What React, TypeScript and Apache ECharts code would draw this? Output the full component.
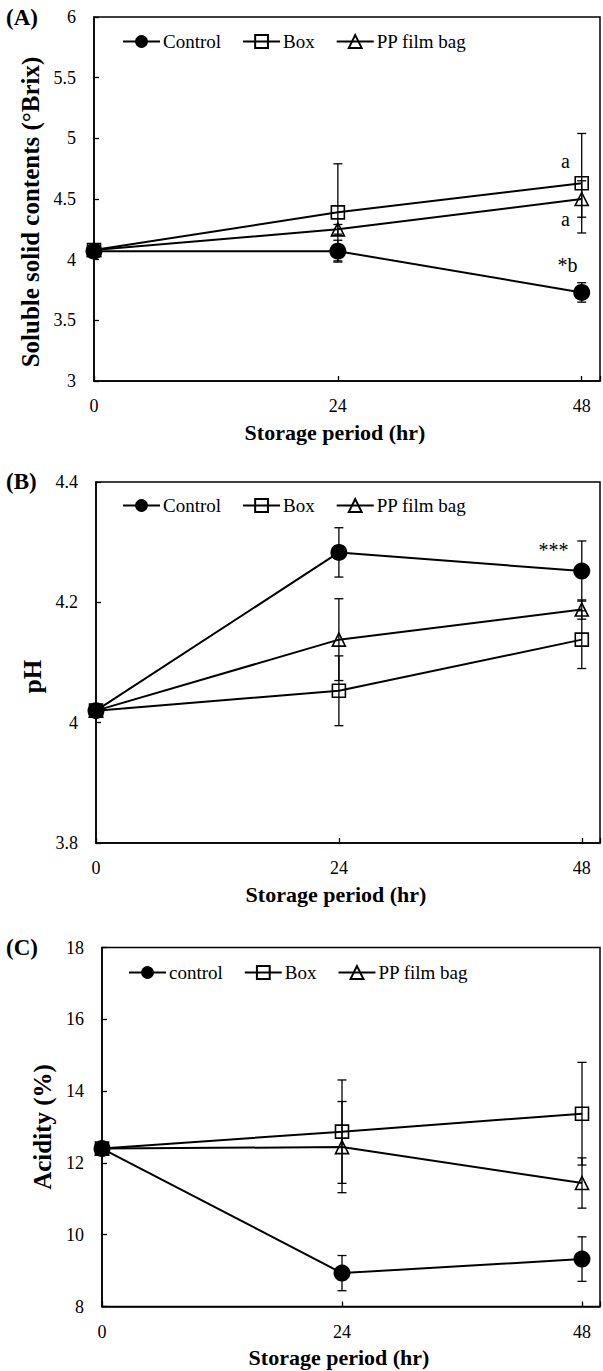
import React, { useEffect, useRef } from "react";
import * as echarts from "echarts";

// ---------- data ----------
const hours = [0, 24, 48];
const xTickLabels = [0, 24, 48];

const namesAB = ["Control", "Box", "PP film bag"];
const namesC = ["control", "Box", "PP film bag"];

// (A) Soluble solid contents (°Brix)
const controlA = [4.07, 4.07, 3.73];
const controlAsd = [0.02, 0.09, 0.08];
const boxA = [4.08, 4.39, 4.63];
const boxAsd = [0.02, 0.4, 0.41];
const ppA = [4.08, 4.25, 4.5];
const ppAsd = [0.02, 0.04, 0.15];
const annA: [number, number, string][] = [
  [46.4, 4.81, "a"],
  [46.4, 4.335, "a"],
  [46.6, 3.96, "*b"],
];

// (B) pH
const controlB = [4.02, 4.283, 4.252];
const controlBsd = [0.005, 0.041, 0.05];
const boxB = [4.02, 4.053, 4.138];
const boxBsd = [0.005, 0.058, 0.048];
const ppB = [4.02, 4.138, 4.188];
const ppBsd = [0.005, 0.068, 0.016];
const annB: [number, number, string][] = [[45.2, 4.287, "***"]];

// (C) Acidity (%)
const controlC = [12.4, 8.93, 9.32];
const controlCsd = [0.1, 0.49, 0.62];
const boxC = [12.4, 12.87, 13.37];
const boxCsd = [0.1, 1.44, 1.43];
const ppC = [12.4, 12.44, 11.44];
const ppCsd = [0.1, 1.27, 0.7];
const annC: [number, number, string][] = [];

const FONT = "Liberation Serif";

export default function App() {
  const ref = useRef<HTMLDivElement>(null);

  useEffect(() => {
    if (!ref.current) return;
    const chart = echarts.init(ref.current, null, { renderer: "svg" });

    const panels = [
      {
        grid: { left: 94, top: 17, width: 507, height: 364 },
        y: { min: 3, max: 6, interval: 0.5 },
        yName: "Soluble solid contents (°Brix)",
        yNameGap: 50,
        yNameShift: 26,
        names: namesAB,
        series: [
          [controlA, controlAsd],
          [boxA, boxAsd],
          [ppA, ppAsd],
        ],
        ann: annA,
        legend: { left: 117, top: 27 },
        letter: { text: "(A)", top: 6 },
      },
      {
        grid: { left: 96, top: 482, width: 505, height: 361 },
        y: { min: 3.8, max: 4.4, interval: 0.2 },
        yName: "pH",
        yNameGap: 44,
        yNameShift: 28,
        names: namesAB,
        series: [
          [controlB, controlBsd],
          [boxB, boxBsd],
          [ppB, ppBsd],
        ],
        ann: annB,
        legend: { left: 117, top: 491 },
        letter: { text: "(B)", top: 470 },
      },
      {
        grid: { left: 102, top: 947.5, width: 499, height: 359 },
        y: { min: 8, max: 18, interval: 2 },
        yName: "Acidity (%)",
        yNameGap: 40,
        yNameShift: 0,
        names: namesC,
        series: [
          [controlC, controlCsd],
          [boxC, boxCsd],
          [ppC, ppCsd],
        ],
        ann: annC,
        legend: { left: 123, top: 958 },
        letter: { text: "(C)", top: 936 },
      },
    ];

    const symbolDefs = [
      { symbol: "circle", symbolSize: 17, itemStyle: { color: "#000" } },
      {
        symbol: "rect",
        symbolSize: 13,
        itemStyle: { color: "rgba(0,0,0,0)", borderColor: "#000", borderWidth: 1.6 },
      },
      {
        symbol: "triangle",
        symbolSize: 13,
        itemStyle: { color: "rgba(0,0,0,0)", borderColor: "#000", borderWidth: 1.6 },
      },
    ];

    const grids: any[] = [];
    const xAxes: any[] = [];
    const yAxes: any[] = [];
    const legends: any[] = [];
    const series: any[] = [];
    const graphics: any[] = [];

    const errorRender = (params: any, api: any) => {
      const x = api.value(0);
      const m = api.value(1);
      const s = api.value(2);
      const top = api.coord([x, m + s]);
      const bot = api.coord([x, m - s]);
      const hw = 4.5;
      const st = { stroke: "#000", lineWidth: 1.3 };
      return {
        type: "group",
        children: [
          { type: "line", shape: { x1: top[0], y1: top[1], x2: bot[0], y2: bot[1] }, style: st },
          { type: "line", shape: { x1: top[0] - hw, y1: top[1], x2: top[0] + hw, y2: top[1] }, style: st },
          { type: "line", shape: { x1: bot[0] - hw, y1: bot[1], x2: bot[0] + hw, y2: bot[1] }, style: st },
        ],
      };
    };

    const annRender = (params: any, api: any) => {
      const p = api.coord([api.value(0), api.value(1)]);
      const txt = api.value(2);
      return {
        type: "text",
        x: p[0],
        y: p[1],
        style: {
          text: String(txt),
          font: `20px "${FONT}"`,
          fill: "#000",
          textAlign: "center",
          textVerticalAlign: "middle",
        },
      };
    };

    panels.forEach((pn, i) => {
      grids.push({
        ...pn.grid,
        show: true,
        borderColor: "#000",
        borderWidth: 1.5,
        backgroundColor: "transparent",
        containLabel: false,
      });
      xAxes.push({
        type: "value",
        gridIndex: i,
        min: 0,
        max: 49.8,
        interval: 24,
        axisLine: { show: true, onZero: false, lineStyle: { color: "#000", width: 1.5 } },
        axisTick: { show: true, inside: true, length: 5, lineStyle: { color: "#000", width: 1.3 } },
        axisLabel: {
          margin: 16,
          fontFamily: FONT,
          fontSize: 18,
          color: "#000",
          formatter: (v: number) => (xTickLabels.includes(v) ? String(v) : ""),
        },
        splitLine: { show: false },
        name: "Storage period (hr)",
        nameLocation: "middle",
        nameGap: 40,
        nameTextStyle: {
          fontFamily: FONT,
          fontWeight: "bold",
          fontSize: 22,
          color: "#000",
          padding: [0, 24, 0, 0],
        },
      });
      yAxes.push({
        type: "value",
        gridIndex: i,
        min: pn.y.min,
        max: pn.y.max,
        interval: pn.y.interval,
        axisLine: { show: true, lineStyle: { color: "#000", width: 1.5 } },
        axisTick: { show: true, inside: true, length: 5, lineStyle: { color: "#000", width: 1.3 } },
        axisLabel: { margin: 18, fontFamily: FONT, fontSize: 18, color: "#000" },
        splitLine: { show: false },
        name: pn.yName,
        nameLocation: "middle",
        nameGap: pn.yNameGap,
        nameTextStyle: {
          fontFamily: FONT,
          fontWeight: "bold",
          fontSize: 25,
          color: "#000",
          padding: [0, pn.yNameShift, 0, 0],
        },
      });
      legends.push({
        left: pn.legend.left,
        top: pn.legend.top,
        orient: "horizontal",
        itemWidth: 37,
        itemHeight: 16,
        itemGap: 21,
        selectedMode: false,
        data: pn.names,
        textStyle: { fontFamily: FONT, fontSize: 19, color: "#000", padding: [0, 0, 0, -2] },
      });

      // error bars
      const errData: number[][] = [];
      pn.series.forEach(([vals, sds]) => {
        hours.forEach((h, k) => errData.push([h, vals[k], sds[k]]));
      });
      series.push({
        type: "custom",
        xAxisIndex: i,
        yAxisIndex: i,
        z: 1,
        silent: true,
        renderItem: errorRender,
        encode: { x: 0, y: 1 },
        data: errData,
      });

      pn.series.forEach(([vals], k) => {
        series.push({
          type: "line",
          name: pn.names[k],
          xAxisIndex: i,
          yAxisIndex: i,
          z: 3 + k,
          ...symbolDefs[k],
          lineStyle: { color: "#000", width: 2 },
          data: hours.map((h, j) => [h, vals[j]]),
        });
      });

      if (pn.ann.length) {
        series.push({
          type: "custom",
          xAxisIndex: i,
          yAxisIndex: i,
          z: 10,
          silent: true,
          renderItem: annRender,
          encode: { x: 0, y: 1 },
          dimensions: ["x", "y", { name: "t", type: "ordinal" }],
          data: pn.ann,
        });
      }

      graphics.push({
        type: "text",
        left: 6,
        top: pn.letter.top,
        style: { text: pn.letter.text, font: `bold 23px "${FONT}"`, fill: "#000" },
      });
    });

    chart.setOption({
      animation: false,
      backgroundColor: "#fff",
      grid: grids,
      xAxis: xAxes,
      yAxis: yAxes,
      legend: legends,
      series,
      graphic: graphics,
    });

    return () => chart.dispose();
  }, []);

  return (
    <div
      ref={ref}
      style={{ position: "absolute", left: 0, top: 0, width: 603, height: 1371, background: "#fff" }}
    />
  );
}
